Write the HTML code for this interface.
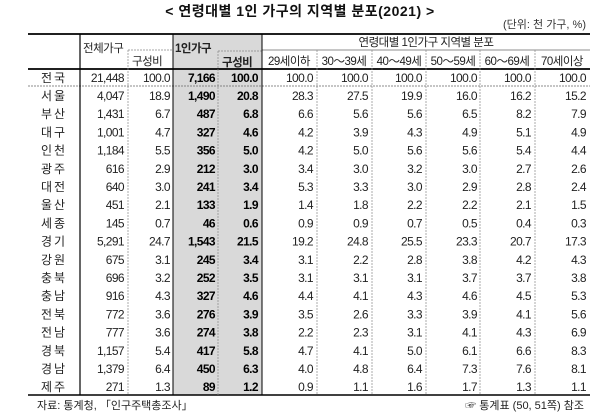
<!DOCTYPE html>
<html><head><meta charset="utf-8"><style>
html,body{margin:0;padding:0;background:#fff;}
svg{display:block;font-family:"Liberation Sans","Noto Sans CJK KR",sans-serif;}
.n text{text-anchor:end;font-size:12px;letter-spacing:-0.6px;fill:#222;}
.n text.b{font-weight:bold;fill:#000;}
.r{text-anchor:middle;font-size:12px;letter-spacing:2px;fill:#222;}
.h{font-size:11.5px;fill:#222;letter-spacing:-0.5px;}
</style></head><body>
<svg width="600" height="412" viewBox="0 0 600 412">
<rect x="173" y="34" width="89" height="361" fill="#d9d9d9"/>
<text x="300" y="16" text-anchor="middle" font-size="14" font-weight="bold" fill="#111" letter-spacing="0.5">&lt; 연령대별 1인 가구의 지역별 분포(2021) &gt;</text>
<text x="586" y="28" text-anchor="end" font-size="11" fill="#333">(단위: 천 가구, %)</text>
<line x1="28" y1="34" x2="590" y2="34" stroke="#000" stroke-width="1.8"/>
<line x1="262" y1="50" x2="590" y2="50" stroke="#666" stroke-width="0.8"/>
<line x1="128" y1="50" x2="173" y2="50" stroke="#888" stroke-width="0.8" stroke-dasharray="2,1"/>
<line x1="218" y1="51" x2="262" y2="51" stroke="#888" stroke-width="0.8" stroke-dasharray="2,1"/>
<line x1="28" y1="69" x2="590" y2="69" stroke="#000" stroke-width="1.8"/>
<line x1="28" y1="86" x2="590" y2="86" stroke="#666" stroke-width="0.8" stroke-dasharray="2,1"/>
<line x1="28" y1="395" x2="590" y2="395" stroke="#000" stroke-width="1.5"/>
<line x1="80" y1="34" x2="80" y2="395" stroke="#000" stroke-width="1.2"/>
<line x1="173" y1="34" x2="173" y2="395" stroke="#000" stroke-width="1"/>
<line x1="262" y1="34" x2="262" y2="395" stroke="#000" stroke-width="1"/>
<g stroke="#888" stroke-width="0.7" stroke-dasharray="2,1">
<line x1="128" y1="50" x2="128" y2="395"/><line x1="218" y1="51" x2="218" y2="395"/>
<line x1="317" y1="50" x2="317" y2="395"/><line x1="372" y1="50" x2="372" y2="395"/>
<line x1="426" y1="50" x2="426" y2="395"/><line x1="480" y1="50" x2="480" y2="395"/>
<line x1="535" y1="50" x2="535" y2="395"/>
</g>
<text class="h" x="83" y="52">전체가구</text>
<text class="h" x="132" y="65">구성비</text>
<text class="h" x="175" y="52" font-weight="bold" font-size="12.5">1인가구</text>
<text class="h" x="222" y="66" font-weight="bold" font-size="12.5">구성비</text>
<text class="h" x="426" y="46" text-anchor="middle" letter-spacing="0.5">연령대별 1인가구 지역별 분포</text>
<g class="h" text-anchor="middle">
<text x="289" y="65" text-anchor="middle">29세이하</text>
<text x="344" y="65" text-anchor="middle">30～39세</text>
<text x="399" y="65" text-anchor="middle">40～49세</text>
<text x="453" y="65" text-anchor="middle">50～59세</text>
<text x="507" y="65" text-anchor="middle">60～69세</text>
<text x="562" y="65" text-anchor="middle">70세이상</text>
</g>
<g transform="translate(0,82)"><text class="r" x="54" y="0">전국</text><g class="n"><text x="124">21,448</text><text x="170">100.0</text><text class="b" x="215">7,166</text><text class="b" x="258">100.0</text><text x="313">100.0</text><text x="368">100.0</text><text x="422">100.0</text><text x="477">100.0</text><text x="531">100.0</text><text x="586">100.0</text></g></g>
<g transform="translate(0,100)"><text class="r" x="54" y="0">서울</text><g class="n"><text x="124">4,047</text><text x="170">18.9</text><text class="b" x="215">1,490</text><text class="b" x="258">20.8</text><text x="313">28.3</text><text x="368">27.5</text><text x="422">19.9</text><text x="477">16.0</text><text x="531">16.2</text><text x="586">15.2</text></g></g>
<g transform="translate(0,118.2)"><text class="r" x="54" y="0">부산</text><g class="n"><text x="124">1,431</text><text x="170">6.7</text><text class="b" x="215">487</text><text class="b" x="258">6.8</text><text x="313">6.6</text><text x="368">5.6</text><text x="422">5.6</text><text x="477">6.5</text><text x="531">8.2</text><text x="586">7.9</text></g></g>
<g transform="translate(0,136.4)"><text class="r" x="54" y="0">대구</text><g class="n"><text x="124">1,001</text><text x="170">4.7</text><text class="b" x="215">327</text><text class="b" x="258">4.6</text><text x="313">4.2</text><text x="368">3.9</text><text x="422">4.3</text><text x="477">4.9</text><text x="531">5.1</text><text x="586">4.9</text></g></g>
<g transform="translate(0,154.6)"><text class="r" x="54" y="0">인천</text><g class="n"><text x="124">1,184</text><text x="170">5.5</text><text class="b" x="215">356</text><text class="b" x="258">5.0</text><text x="313">4.2</text><text x="368">5.0</text><text x="422">5.6</text><text x="477">5.6</text><text x="531">5.4</text><text x="586">4.4</text></g></g>
<g transform="translate(0,172.8)"><text class="r" x="54" y="0">광주</text><g class="n"><text x="124">616</text><text x="170">2.9</text><text class="b" x="215">212</text><text class="b" x="258">3.0</text><text x="313">3.4</text><text x="368">3.0</text><text x="422">3.2</text><text x="477">3.0</text><text x="531">2.7</text><text x="586">2.6</text></g></g>
<g transform="translate(0,191)"><text class="r" x="54" y="0">대전</text><g class="n"><text x="124">640</text><text x="170">3.0</text><text class="b" x="215">241</text><text class="b" x="258">3.4</text><text x="313">5.3</text><text x="368">3.3</text><text x="422">3.0</text><text x="477">2.9</text><text x="531">2.8</text><text x="586">2.4</text></g></g>
<g transform="translate(0,209.2)"><text class="r" x="54" y="0">울산</text><g class="n"><text x="124">451</text><text x="170">2.1</text><text class="b" x="215">133</text><text class="b" x="258">1.9</text><text x="313">1.4</text><text x="368">1.8</text><text x="422">2.2</text><text x="477">2.2</text><text x="531">2.1</text><text x="586">1.5</text></g></g>
<g transform="translate(0,227.4)"><text class="r" x="54" y="0">세종</text><g class="n"><text x="124">145</text><text x="170">0.7</text><text class="b" x="215">46</text><text class="b" x="258">0.6</text><text x="313">0.9</text><text x="368">0.9</text><text x="422">0.7</text><text x="477">0.5</text><text x="531">0.4</text><text x="586">0.3</text></g></g>
<g transform="translate(0,245.6)"><text class="r" x="54" y="0">경기</text><g class="n"><text x="124">5,291</text><text x="170">24.7</text><text class="b" x="215">1,543</text><text class="b" x="258">21.5</text><text x="313">19.2</text><text x="368">24.8</text><text x="422">25.5</text><text x="477">23.3</text><text x="531">20.7</text><text x="586">17.3</text></g></g>
<g transform="translate(0,263.8)"><text class="r" x="54" y="0">강원</text><g class="n"><text x="124">675</text><text x="170">3.1</text><text class="b" x="215">245</text><text class="b" x="258">3.4</text><text x="313">3.1</text><text x="368">2.2</text><text x="422">2.8</text><text x="477">3.8</text><text x="531">4.2</text><text x="586">4.3</text></g></g>
<g transform="translate(0,282)"><text class="r" x="54" y="0">충북</text><g class="n"><text x="124">696</text><text x="170">3.2</text><text class="b" x="215">252</text><text class="b" x="258">3.5</text><text x="313">3.1</text><text x="368">3.1</text><text x="422">3.1</text><text x="477">3.7</text><text x="531">3.7</text><text x="586">3.8</text></g></g>
<g transform="translate(0,300.2)"><text class="r" x="54" y="0">충남</text><g class="n"><text x="124">916</text><text x="170">4.3</text><text class="b" x="215">327</text><text class="b" x="258">4.6</text><text x="313">4.4</text><text x="368">4.1</text><text x="422">4.3</text><text x="477">4.6</text><text x="531">4.5</text><text x="586">5.3</text></g></g>
<g transform="translate(0,318.4)"><text class="r" x="54" y="0">전북</text><g class="n"><text x="124">772</text><text x="170">3.6</text><text class="b" x="215">276</text><text class="b" x="258">3.9</text><text x="313">3.5</text><text x="368">2.6</text><text x="422">3.3</text><text x="477">3.9</text><text x="531">4.1</text><text x="586">5.6</text></g></g>
<g transform="translate(0,336.6)"><text class="r" x="54" y="0">전남</text><g class="n"><text x="124">777</text><text x="170">3.6</text><text class="b" x="215">274</text><text class="b" x="258">3.8</text><text x="313">2.2</text><text x="368">2.3</text><text x="422">3.1</text><text x="477">4.1</text><text x="531">4.3</text><text x="586">6.9</text></g></g>
<g transform="translate(0,354.8)"><text class="r" x="54" y="0">경북</text><g class="n"><text x="124">1,157</text><text x="170">5.4</text><text class="b" x="215">417</text><text class="b" x="258">5.8</text><text x="313">4.7</text><text x="368">4.1</text><text x="422">5.0</text><text x="477">6.1</text><text x="531">6.6</text><text x="586">8.3</text></g></g>
<g transform="translate(0,373)"><text class="r" x="54" y="0">경남</text><g class="n"><text x="124">1,379</text><text x="170">6.4</text><text class="b" x="215">450</text><text class="b" x="258">6.3</text><text x="313">4.0</text><text x="368">4.8</text><text x="422">6.4</text><text x="477">7.3</text><text x="531">7.6</text><text x="586">8.1</text></g></g>
<g transform="translate(0,391.2)"><text class="r" x="54" y="0">제주</text><g class="n"><text x="124">271</text><text x="170">1.3</text><text class="b" x="215">89</text><text class="b" x="258">1.2</text><text x="313">0.9</text><text x="368">1.1</text><text x="422">1.6</text><text x="477">1.7</text><text x="531">1.3</text><text x="586">1.1</text></g></g>
<text x="37" y="409" font-size="11" fill="#222">자료: 통계청, 「인구주택총조사」</text>
<text x="584" y="409" text-anchor="end" font-size="11" fill="#222">☞ 통계표 (50, 51쪽) 참조</text>
</svg>
</body></html>
